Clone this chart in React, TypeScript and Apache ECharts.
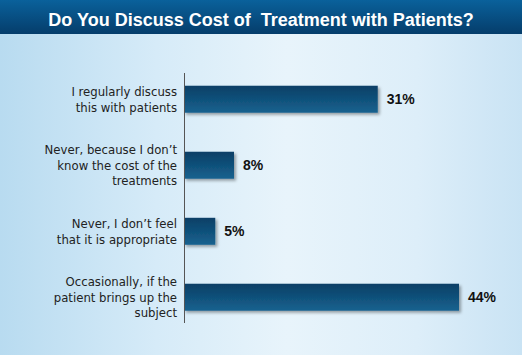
import React, { useEffect, useRef } from "react";
import * as echarts from "echarts";

const TITLE = "Do You Discuss Cost of  Treatment with Patients?";
const categories = [
  "I regularly discuss\nthis with patients",
  "Never, because I don\u2019t\nknow the cost of the\ntreatments",
  "Never, I don\u2019t feel\nthat it is appropriate",
  "Occasionally, if the\npatient brings up the\nsubject",
];
const values = [31, 8, 5, 44];

export default function App() {
  const ref = useRef<HTMLDivElement>(null);
  useEffect(() => {
    document.body.style.margin = "0";
    if (!ref.current) return;
    const chart = echarts.init(ref.current, null, { renderer: "svg" });
    const labelFont = "'DejaVu Sans Condensed', sans-serif";
    chart.setOption({
      animation: false,
      graphic: [
        {
          type: "rect",
          z: -10,
          silent: true,
          shape: { x: 0, y: 0, width: 522, height: 355 },
          style: {
            fill: new echarts.graphic.LinearGradient(0, 0, 1, 0, [
              { offset: 0, color: "#b8dbf0" },
              { offset: 0.3, color: "#d6ebf8" },
              { offset: 0.55, color: "#e8f4fb" },
              { offset: 0.8, color: "#ddeef9" },
              { offset: 1, color: "#c9e3f4" },
            ]),
          },
        },
        {
          type: "rect",
          z: -9,
          silent: true,
          shape: { x: 0, y: 0, width: 522, height: 34 },
          style: {
            fill: new echarts.graphic.LinearGradient(0, 0, 0, 1, [
              { offset: 0, color: "#0a619b" },
              { offset: 1, color: "#053d6b" },
            ]),
          },
        },
        {
          type: "line",
          z: 5,
          silent: true,
          shape: { x1: 184.5, y1: 73, x2: 184.5, y2: 323 },
          style: { stroke: "#555", lineWidth: 1 },
        },
      ],
      title: {
        text: TITLE,
        left: "center",
        top: 6,
        textStyle: {
          color: "#ffffff",
          fontSize: 18,
          fontWeight: "bold",
          fontFamily: "'Liberation Sans', Arial, sans-serif",
        },
      },
      grid: { left: 184, right: 25.5, top: 66.3, bottom: 24.7 },
      xAxis: {
        type: "value",
        min: 0,
        max: 50,
        show: false,
      },
      yAxis: {
        type: "category",
        data: categories,
        inverse: true,
        axisLine: { show: false },
        axisTick: { show: false },
        splitLine: { show: false },
        axisLabel: {
          margin: 7,
          color: "#222",
          fontSize: 13,
          lineHeight: 15.5,
          fontFamily: labelFont,
          align: "right",
        },
      },
      series: [
        {
          type: "bar",
          data: values,
          barWidth: 27,
          itemStyle: {
            color: new echarts.graphic.LinearGradient(0, 0, 0, 1, [
              { offset: 0, color: "#093f66" },
              { offset: 1, color: "#17628f" },
            ]),
            shadowColor: "rgba(0,0,0,0.35)",
            shadowBlur: 3,
            shadowOffsetX: 2,
            shadowOffsetY: 2,
          },
          label: {
            show: true,
            position: "right",
            distance: 9,
            formatter: "{c}%",
            color: "#111",
            fontSize: 14,
            fontWeight: "bold",
            fontFamily: "'Liberation Sans', Arial, sans-serif",
          },
        },
      ],
    });
    return () => chart.dispose();
  }, []);
  return <div ref={ref} style={{ width: 522, height: 355 }} />;
}
